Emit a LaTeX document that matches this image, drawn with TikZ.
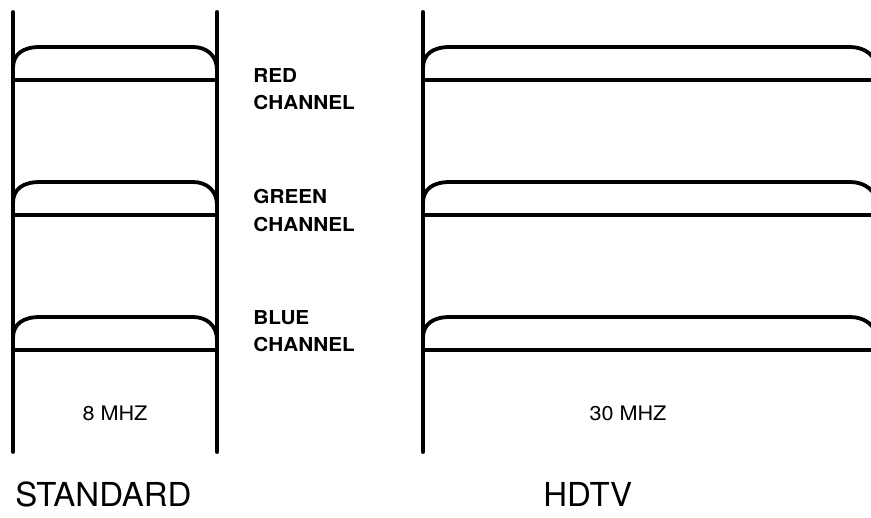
\documentclass[tikz,border=0pt]{standalone}
\usepackage{fontspec}
\setmainfont{TeX Gyre Heros}
\newfontfamily\chanfont{TeX Gyre Heros}[FakeStretch=1.08]

\begin{document}
\begin{tikzpicture}[x=0.5pt,y=-0.5pt,
  trace/.style={black, line width=1.9pt, line cap=round, line join=round},
  chanlabel/.style={anchor=base west, inner sep=0pt, font=\chanfont\bfseries\fontsize{9.6}{12}\selectfont},
  bandlabel/.style={anchor=base, inner sep=0pt, font=\chanfont\fontsize{10}{12}\selectfont},
  systemlabel/.style={anchor=base west, inner sep=0pt, font=\fontsize{16.5}{20}\selectfont}]
\clip (0,0) rectangle (871,518);
\draw[trace] (13,12) -- (13,452);
\draw[trace] (217,12) -- (217,452);
\draw[trace] (423,12) -- (423,452);
\foreach \b in {80,215,350} {
  \draw[trace] (13,\b) -- (217,\b);
  \draw[trace] (13,\b-12) .. controls (13,\b-26) and (23,\b-33) .. (40,\b-33)
    -- (193,\b-33) .. controls (207,\b-33) and (217,\b-24) .. (217,\b-10);
  \draw[trace] (423,\b) -- (871,\b);
  \draw[trace] (423,\b-12) .. controls (423,\b-26) and (433,\b-33) .. (450,\b-33)
    -- (850,\b-33) .. controls (865,\b-33) and (877,\b-24) .. (877,\b-10);
}
\node[chanlabel] (redA) at (253,83) {RED};
\node[chanlabel] (redB) at (253,110) {CHANNEL};
\node[chanlabel] (greenA) at (253,204) {GREEN};
\node[chanlabel] (greenB) at (253,231) {CHANNEL};
\node[chanlabel] (blueA) at (253,324) {BLUE};
\node[chanlabel] (blueB) at (253,351) {CHANNEL};
\node[bandlabel] (stdband) at (115,420) {8 MHZ};
\node[bandlabel] (hdband) at (628,420) {30 MHZ};
\node[systemlabel] (std) at (15,506) {STANDARD};
\node[systemlabel] (hd) at (543,506) {HDTV};
\end{tikzpicture}
\end{document}
